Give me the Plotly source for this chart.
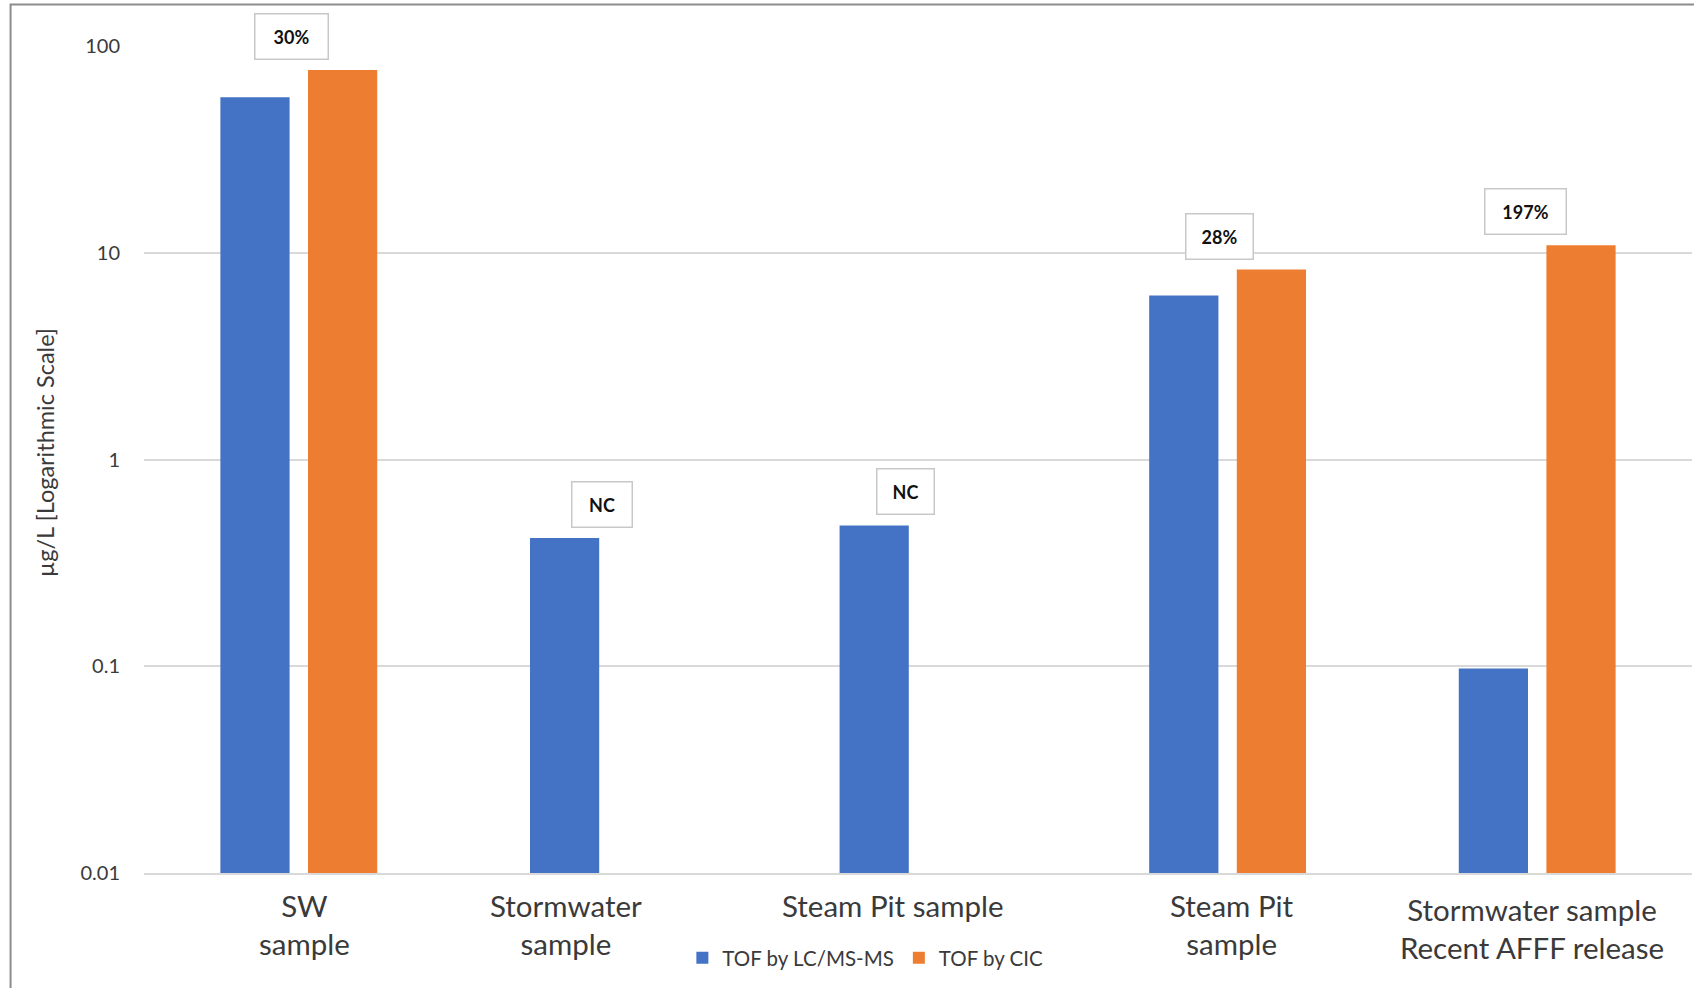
import math
import plotly.graph_objects as go

# ---- data ----
categories = ["SW sample", "Stormwater sample", "Steam Pit sample (a)", "Steam Pit sample (b)",
              "Stormwater sample Recent AFFF release"]
category_labels = ["SW<br>sample", "Stormwater<br>sample", "Steam Pit sample", "Steam Pit<br>sample",
                   "Stormwater sample<br>Recent AFFF release"]
tof_lcms = [56.6, 0.418, 0.480, 6.22, 0.0977]
tof_cic = [76.7, None, None, 8.31, 10.9]
box_labels = ["30%", "NC", "NC", "28%", "197%"]
series_names = ["TOF by LC/MS-MS", "TOF by CIC"]
y_ticks = [0.01, 0.1, 1, 10, 100]
y_ticktext = ["0.01", "0.1", "1", "10", "100"]

FONT = "Lato"
TXT = "#3a3a3a"

fig = go.Figure()
fig.add_trace(go.Bar(x=categories, y=tof_lcms, name=series_names[0], marker_color="#4472C4",
                     marker_line_width=0))
fig.add_trace(go.Bar(x=categories, y=tof_cic, name=series_names[1], marker_color="#ED7D31",
                     marker_line_width=0))

# percentage / NC boxes above each group
box_xshift = [-7, -6.5, -12.5, -8.5, -12]
box_width = [70, 57, 54, 64, 78]
for i, (c, lab) in enumerate(zip(categories, box_labels)):
    vals = [v for v in (tof_lcms[i], tof_cic[i]) if v is not None]
    top = max(vals)
    fig.add_annotation(x=c, y=math.log10(top), xref="x", yref="y", text="<b>%s</b>" % lab,
                       showarrow=False, yanchor="bottom", yshift=10, xshift=box_xshift[i],
                       font=dict(family=FONT, size=18, color="#111111"),
                       bgcolor="white", bordercolor="#c8c8c8", borderwidth=1.5,
                       width=box_width[i], height=42, borderpad=1)

# category labels (drawn as annotations to mimic the original placement)
lab_xshift = [6, -42, -25, 4, -5]
lab_yshift = [-13, -13, -13, -13, -17]
for i, (c, lab) in enumerate(zip(categories, category_labels)):
    fig.add_annotation(x=c, y=0, xref="x", yref="paper", text=lab, showarrow=False,
                       yanchor="top", xanchor="center", xshift=lab_xshift[i], yshift=lab_yshift[i],
                       font=dict(family=FONT, size=29.5, color=TXT))

# y-axis title
fig.add_annotation(x=-0.064, y=0.509, xref="paper", yref="paper", text="µg/L [Logarithmic Scale]",
                   textangle=-90, showarrow=False, xanchor="center", yanchor="middle",
                   font=dict(family=FONT, size=23.5, color=TXT))

# outer frame
fig.add_shape(type="rect", xref="paper", yref="paper", x0=-0.0862, x1=1.05, y0=-0.2, y1=1.0502,
              line=dict(color="#8c8c8c", width=2), fillcolor="rgba(0,0,0,0)", layer="above")

fig.update_layout(
    width=1694, height=988,
    margin=dict(l=144, r=2, t=45.5, b=115),
    paper_bgcolor="white", plot_bgcolor="white",
    barmode="group", bargap=0.434, bargroupgap=0.21,
    showlegend=True,
    legend=dict(orientation="h", x=0.466, xanchor="center", y=-0.1027, yanchor="middle",
                font=dict(family=FONT, size=20.5, color=TXT), itemwidth=30, traceorder="normal"),
    font=dict(family=FONT, color=TXT),
)
fig.update_xaxes(showticklabels=False, showgrid=False, showline=True, linecolor="#d9d9d9",
                 linewidth=1.5, ticks="")
fig.update_yaxes(type="log", range=[-2, 2.001], tickvals=y_ticks, ticktext=y_ticktext,
                 showgrid=True, gridcolor="#d9d9d9", gridwidth=1.5, showline=False,
                 zeroline=False, ticks="outside", ticklen=19, tickcolor="rgba(0,0,0,0)",
                 tickfont=dict(family=FONT, size=20, color=TXT))

fig.write_html("out.html", config={"displayModeBar": False},
               post_script="document.body.style.margin='0';document.body.style.overflow='hidden';")
